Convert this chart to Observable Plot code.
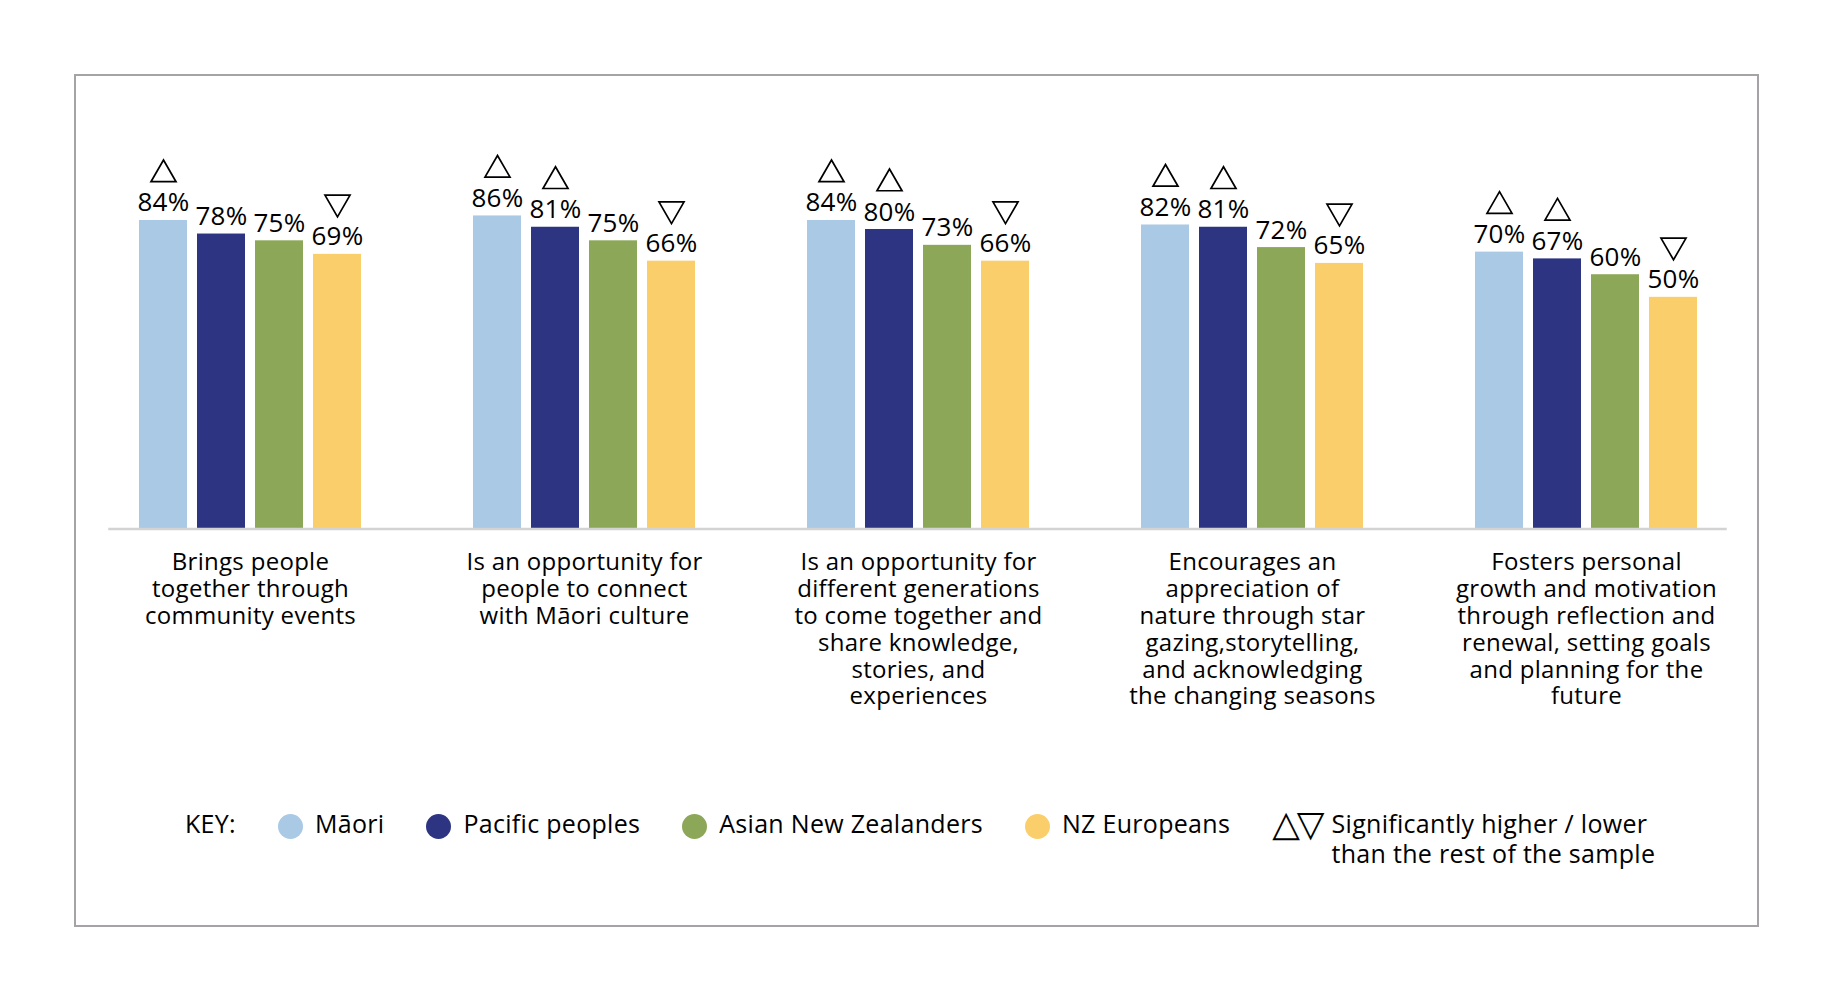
<!DOCTYPE html>
<html>
<head>
<meta charset="utf-8">
<script src="https://cdn.jsdelivr.net/npm/d3@7"></script>
<script src="https://cdn.jsdelivr.net/npm/@observablehq/plot@0.6"></script>
<style>
html, body { margin: 0; padding: 0; background: #fff; overflow: hidden; }
body { width: 1833px; height: 1000px; position: relative; font-family: "Open Sans", sans-serif; color: #000; }
#frame { position: absolute; left: 74px; top: 74px; width: 1681px; height: 849px; border: 2px solid #a6a3a6; }
#chart { position: absolute; left: 0; top: 0; }
#legend { position: absolute; left: 185px; top: 808px; display: flex; align-items: flex-start; font-size: 25px; line-height: 30px; letter-spacing: 0.3px; }
#legend .item { display: flex; align-items: flex-start; margin-right: 42px; white-space: nowrap; }
#legend .sw { width: 25px; height: 25px; border-radius: 50%; margin-top: 6px; margin-right: 12px; }
#legend .tri { font-family: "DejaVu Sans", sans-serif; font-size: 36px; line-height: 30px; letter-spacing: -3px; margin-right: 10px; margin-top: 1px; }
</style>
</head>
<body>
<div id="frame"></div>
<div id="chart"></div>
<div id="legend"></div>
<script>
// ---- data ----
const categories = [
  "Brings people\ntogether through\ncommunity events",
  "Is an opportunity for\npeople to connect\nwith Māori culture",
  "Is an opportunity for\ndifferent generations\nto come together and\nshare knowledge,\nstories, and\nexperiences",
  "Encourages an\nappreciation of\nnature through star\ngazing,storytelling,\nand acknowledging\nthe changing seasons",
  "Fosters personal\ngrowth and motivation\nthrough reflection and\nrenewal, setting goals\nand planning for the\nfuture"
];
const groups = ["Māori", "Pacific peoples", "Asian New Zealanders", "NZ Europeans"];
const colors = ["#a9c9e5", "#2d3583", "#8da759", "#facf6b"];
const maori = [84, 86, 84, 82, 70];
const pacific = [78, 81, 80, 81, 67];
const asian = [75, 75, 73, 72, 60];
const nzEuropeans = [69, 66, 66, 65, 50];
const maoriSig = ["up", "up", "up", "up", "up"];
const pacificSig = ["", "up", "up", "up", "up"];
const asianSig = ["", "", "", "", ""];
const nzEuropeansSig = ["down", "down", "down", "down", "down"];
const keyLabel = "KEY:";
const sigLabel = ["Significantly higher / lower", "than the rest of the sample"];
const axisMin = -52.5; // value-axis minimum of the original chart
const axisMax = 120;

const seriesValues = [maori, pacific, asian, nzEuropeans];
const seriesSig = [maoriSig, pacificSig, asianSig, nzEuropeansSig];
const rows = [];
categories.forEach((c, ci) => {
  groups.forEach((g, gi) => {
    rows.push({category: c, group: g, value: seriesValues[gi][ci], sig: seriesSig[gi][ci]});
  });
});

const chart = Plot.plot({
  width: 1833,
  height: 720,
  marginLeft: 82,
  marginRight: 80,
  marginTop: 138.6,
  marginBottom: 191.5,
  style: "background: transparent; font-family: 'Open Sans', sans-serif; color: black; letter-spacing: 0.3px;",
  fx: {domain: categories, padding: 0, label: null},
  x: {domain: groups, paddingInner: 0.177, paddingOuter: 0.955, axis: null},
  y: {domain: [axisMin, axisMax], axis: null},
  color: {domain: groups, range: colors},
  marks: [
    Plot.barY(rows, {fx: "category", x: "group", y1: axisMin, y2: "value", fill: "group"}),
    Plot.frame({anchor: "bottom", facet: "super", stroke: "#d3d3d3", strokeWidth: 2.5, insetLeft: 26, insetRight: 28}),
    Plot.text(rows, {fx: "category", x: "group", y: "value", text: d => `${d.value}%`, dy: -9, lineAnchor: "bottom", fontSize: 26, fill: "black"}),
    Plot.dot(rows.filter(d => d.sig === "up"), {fx: "category", x: "group", y: "value", symbol: "triangle", r: 9.3, stroke: "black", strokeWidth: 1.7, fill: "none", dy: -46}),
    Plot.dot(rows.filter(d => d.sig === "down"), {fx: "category", x: "group", y: "value", symbol: "triangle", r: 9.3, rotate: 180, stroke: "black", strokeWidth: 1.7, fill: "none", dy: -52}),
    Plot.axisFx({anchor: "bottom", tickSize: 0, tickPadding: 22, fontSize: 24, lineHeight: 1.12, label: null, fill: "black"})
  ]
});
document.getElementById("chart").appendChild(chart);

// ---- legend ----
const legend = document.getElementById("legend");
const key = document.createElement("div");
key.className = "item";
key.textContent = keyLabel;
legend.appendChild(key);
groups.forEach((g, i) => {
  const it = document.createElement("div");
  it.className = "item";
  const sw = document.createElement("span");
  sw.className = "sw";
  sw.style.background = colors[i];
  const t = document.createElement("span");
  t.textContent = g;
  it.appendChild(sw);
  it.appendChild(t);
  legend.appendChild(it);
});
const sigItem = document.createElement("div");
sigItem.className = "item";
const tri = document.createElement("span");
tri.className = "tri";
tri.textContent = "△▽";
const sigText = document.createElement("span");
sigText.innerHTML = sigLabel.join("<br>");
sigItem.appendChild(tri);
sigItem.appendChild(sigText);
legend.appendChild(sigItem);
</script>
</body>
</html>
